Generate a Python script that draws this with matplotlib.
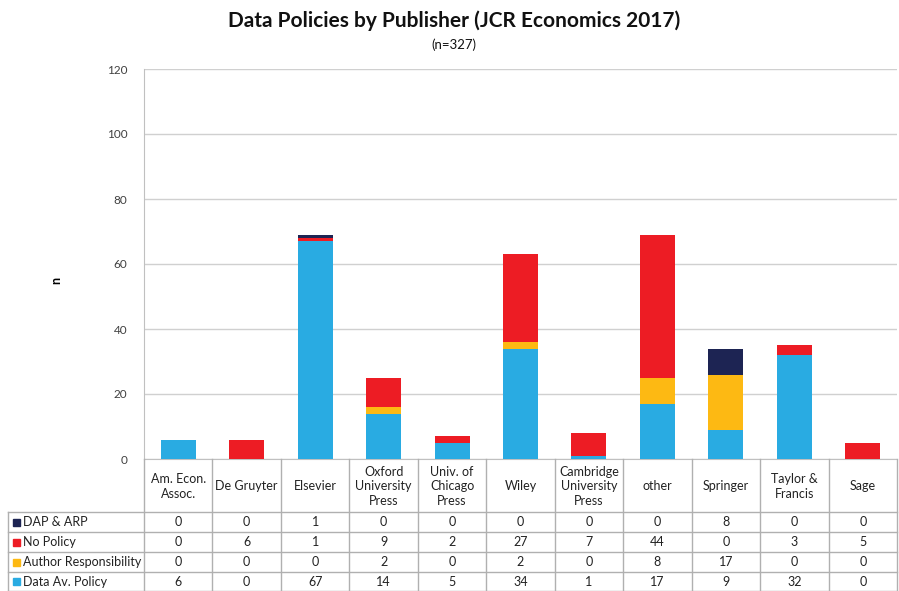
import matplotlib
matplotlib.use("Agg")
import matplotlib.pyplot as plt
import numpy as np

categories = ["Am. Econ.\nAssoc.", "De Gruyter", "Elsevier", "Oxford\nUniversity\nPress",
              "Univ. of\nChicago\nPress", "Wiley", "Cambridge\nUniversity\nPress", "other",
              "Springer", "Taylor &\nFrancis", "Sage"]
series_names = ["DAP & ARP", "No Policy", "Author Responsibility", "Data Av. Policy"]
dap_arp = [0, 0, 1, 0, 0, 0, 0, 0, 8, 0, 0]
no_policy = [0, 6, 1, 9, 2, 27, 7, 44, 0, 3, 5]
author_resp = [0, 0, 0, 2, 0, 2, 0, 8, 17, 0, 0]
data_av = [6, 0, 67, 14, 5, 34, 1, 17, 9, 32, 0]
colors = {"DAP & ARP": "#1d2453", "No Policy": "#ed1c24",
          "Author Responsibility": "#fdb913", "Data Av. Policy": "#29abe2"}

W, H = 899, 591
plt.rcParams['font.family'] = ['Lato', 'DejaVu Sans']
fig = plt.figure(figsize=(W / 100, H / 100), dpi=100)

L, R, T, B = 144, 897, 69, 459
ax = fig.add_axes([L / W, 1 - B / H, (R - L) / W, (B - T) / H])
n = len(categories)
x = np.arange(n)
bw = 0.51
bottom = np.zeros(n)
stack = [("Data Av. Policy", data_av), ("Author Responsibility", author_resp),
         ("No Policy", no_policy), ("DAP & ARP", dap_arp)]
for name, vals in stack:
    ax.bar(x, vals, bw, bottom=bottom, color=colors[name], zorder=3)
    bottom += np.array(vals)
ax.set_xlim(-0.5, n - 0.5)
ax.set_ylim(0, 120)
ax.set_yticks(range(0, 121, 20))
ax.set_xticks([])
ax.grid(axis='y', color='#d0d0d0', linewidth=1, zorder=0)
for s in ['top', 'right']:
    ax.spines[s].set_visible(False)
ax.spines['left'].set_color('#c0c0c0')
ax.spines['bottom'].set_color('#c0c0c0')
ax.tick_params(axis='y', length=0, labelsize=8.5, colors='#404040', pad=12)
ax.set_ylabel("n", fontsize=9, fontweight='bold', rotation=90)
ax.yaxis.set_label_coords((62 - L) / (R - L), (B - 280) / (B - T))

fig.text(454 / W, 1 - 21 / H, "Data Policies by Publisher (JCR Economics 2017)",
         ha='center', va='center', fontsize=15, fontweight='bold', color='#111111')
fig.text(454 / W, 1 - 45 / H, "(n=327)", ha='center', va='center', fontsize=9.5, color='#111111')

# table overlay in pixel coords
tx = fig.add_axes([0, 0, 1, 1], zorder=5)
tx.set_xlim(0, W)
tx.set_ylim(H, 0)
tx.axis('off')
tx.patch.set_alpha(0)
lc = '#b0b0b0'
colw = (R - L) / n
bounds = [L + i * colw for i in range(n + 1)]
row_y = [512, 532, 552, 572, 591]
for b in bounds:
    tx.plot([b, b], [B, row_y[-1]], color=lc, lw=1)
tx.plot([8, 8], [row_y[0], row_y[-1]], color=lc, lw=1)
for yy in row_y:
    tx.plot([8, R], [yy, yy], color=lc, lw=1)
for i, c in enumerate(categories):
    tx.text(bounds[i] + colw / 2, (B + row_y[0]) / 2 + 1, c, ha='center', va='center',
            fontsize=9, linespacing=1.25, color='#222222')
row_vals = [dap_arp, no_policy, author_resp, data_av]
for r, name in enumerate(series_names):
    yc = (row_y[r] + row_y[r + 1]) / 2
    tx.add_patch(plt.Rectangle((13, yc - 3.5), 7, 7, color=colors[name]))
    tx.text(23, yc, name, ha='left', va='center', fontsize=9, color='#222222')
    for i, v in enumerate(row_vals[r]):
        tx.text(bounds[i] + colw / 2, yc, str(v), ha='center', va='center', fontsize=9, color='#222222')

fig.savefig("out.png", dpi=100)
